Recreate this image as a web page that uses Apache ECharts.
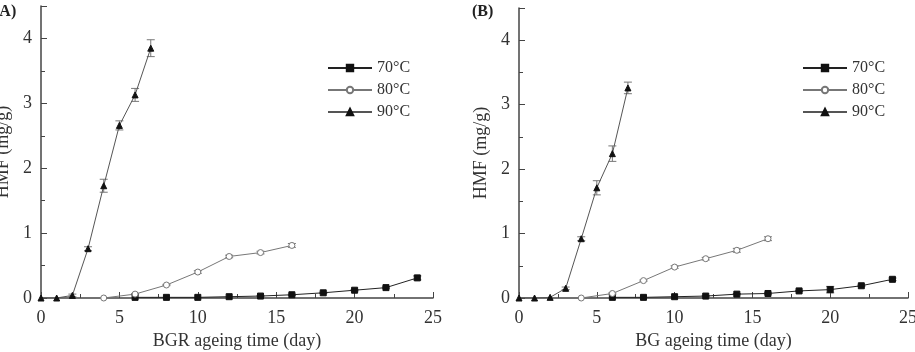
<!DOCTYPE html>
<html>
<head>
<meta charset="utf-8">
<script src="https://cdn.jsdelivr.net/npm/echarts@6/dist/echarts.min.js"></script>
<style>
  html, body { margin: 0; padding: 0; background: #fff; }
  #chart { width: 915px; height: 352px; }
</style>
</head>
<body>
<div id="chart"></div>
<script>
// panel A (BGR)
var a70x = [6, 8, 10, 12, 14, 16, 18, 20, 22, 24];
var a70y = [0.01, 0.01, 0.01, 0.02, 0.03, 0.05, 0.08, 0.12, 0.16, 0.31];
var a70e = [0, 0, 0, 0, 0.01, 0.01, 0.01, 0.01, 0.01, 0.03];
var a80x = [4, 6, 8, 10, 12, 14, 16];
var a80y = [0, 0.06, 0.2, 0.4, 0.64, 0.7, 0.81];
var a80e = [0, 0.01, 0.01, 0.02, 0.02, 0.02, 0.03];
var a90x = [0, 1, 2, 3, 4, 5, 6, 7];
var a90y = [0, 0, 0.04, 0.76, 1.73, 2.66, 3.13, 3.85];
var a90e = [0, 0, 0.02, 0.03, 0.1, 0.07, 0.1, 0.13];

// panel B (BG)
var b70x = [6, 8, 10, 12, 14, 16, 18, 20, 22, 24];
var b70y = [0.01, 0.01, 0.02, 0.03, 0.06, 0.07, 0.11, 0.13, 0.19, 0.29];
var b70e = [0, 0, 0, 0.01, 0.01, 0.01, 0.01, 0.05, 0.01, 0.02];
var b80x = [4, 6, 8, 10, 12, 14, 16];
var b80y = [0, 0.07, 0.27, 0.48, 0.61, 0.74, 0.92];
var b80e = [0, 0.01, 0.01, 0.02, 0.02, 0.03, 0.03];
var b90x = [0, 1, 2, 3, 4, 5, 6, 7];
var b90y = [0, 0, 0.01, 0.15, 0.92, 1.71, 2.24, 3.26];
var b90e = [0, 0, 0, 0.02, 0.03, 0.11, 0.12, 0.09];

var names = ["70°C", "80°C", "90°C"];
var xTitles = ["BGR ageing time (day)", "BG ageing time (day)"];

var font = "Liberation Serif";

function pairs(xs, ys) {
  return xs.map(function (x, i) { return [x, ys[i]]; });
}
function errs(xs, ys, es) {
  var out = [];
  xs.forEach(function (x, i) {
    if (es[i] > 0) out.push([x, ys[i] - es[i], ys[i] + es[i]]);
  });
  return out;
}

function errorSeries(idx, data, color) {
  return {
    type: "custom",
    xAxisIndex: idx,
    yAxisIndex: idx,
    data: data,
    z: 1,
    silent: true,
    renderItem: function (params, api) {
      var x = api.value(0);
      var lo = api.coord([x, api.value(1)]);
      var hi = api.coord([x, api.value(2)]);
      var w = 4;
      var st = { stroke: color, lineWidth: 1 };
      return {
        type: "group",
        children: [
          { type: "line", shape: { x1: lo[0], y1: lo[1], x2: hi[0], y2: hi[1] }, style: st },
          { type: "line", shape: { x1: lo[0] - w, y1: lo[1], x2: lo[0] + w, y2: lo[1] }, style: st },
          { type: "line", shape: { x1: hi[0] - w, y1: hi[1], x2: hi[0] + w, y2: hi[1] }, style: st }
        ]
      };
    }
  };
}

function lineSeries(idx, name, data, symbol, lineColor, symColor, border) {
  return {
    type: "line",
    name: name,
    xAxisIndex: idx,
    yAxisIndex: idx,
    data: data,
    symbol: symbol,
    symbolSize: 6,
    z: 3,
    lineStyle: { color: lineColor, width: 1 },
    itemStyle: { color: symColor, borderColor: border, borderWidth: 1 },
    emphasis: { disabled: true }
  };
}

function xAxisFor(idx) {
  return {
    type: "value",
    gridIndex: idx,
    min: 0,
    max: 25,
    interval: 5,
    name: xTitles[idx],
    nameLocation: "middle",
    nameGap: 29,
    nameTextStyle: { fontFamily: font, fontSize: 18, color: "#333" },
    axisLine: { lineStyle: { color: "#444", width: 1.5 } },
    axisTick: { inside: true, length: 6, lineStyle: { color: "#444" } },
    minorTick: { show: true, splitNumber: 2, length: 4, lineStyle: { color: "#444" } },
    axisLabel: { fontFamily: font, fontSize: 18, color: "#333", margin: 11 },
    splitLine: { show: false }
  };
}

function yAxisFor(idx) {
  return {
    type: "value",
    gridIndex: idx,
    min: 0,
    max: 4.5,
    interval: 1,
    name: "HMF (mg/g)",
    nameLocation: "middle",
    nameGap: 29,
    nameTextStyle: { fontFamily: font, fontSize: 18, color: "#333" },
    axisLine: { show: true, lineStyle: { color: "#444", width: 1.5 } },
    axisTick: { inside: true, length: 6, lineStyle: { color: "#444" } },
    minorTick: { show: true, splitNumber: 2, length: 4, lineStyle: { color: "#444" } },
    axisLabel: {
      fontFamily: font, fontSize: 18, color: "#333", margin: 9,
      formatter: function (v) { return v % 1 === 0 ? String(v) : ""; }
    },
    splitLine: { show: false }
  };
}

function legendFor(idx, left) {
  return {
    show: true,
    orient: "vertical",
    left: left,
    top: 55,
    itemWidth: 44,
    itemHeight: 8,
    itemGap: 6,
    data: names,
    selectedMode: false,
    textStyle: { fontFamily: font, fontSize: 16, color: "#333" }
  };
}

var chart = echarts.init(document.getElementById("chart"));
var option = {
  animation: false,
  backgroundColor: "#fff",
  grid: [
    { left: 41, right: 482, top: 6, bottom: 54, outerBoundsMode: "none" },
    { left: 519, right: 7, top: 8, bottom: 54, outerBoundsMode: "none" }
  ],
  xAxis: [xAxisFor(0), xAxisFor(1)],
  yAxis: [yAxisFor(0), yAxisFor(1)],
  legend: [legendFor(0, 322), legendFor(1, 797)],
  graphic: [
    { type: "text", left: -6, top: 4, style: { text: "(A)", font: "bold 16px " + font, fill: "#222" } },
    { type: "text", left: 472, top: 4, style: { text: "(B)", font: "bold 16px " + font, fill: "#222" } }
  ],
  series: [
    lineSeries(0, names[0], pairs(a70x, a70y), "rect", "#222", "#111", "#111"),
    lineSeries(0, names[1], pairs(a80x, a80y), "circle", "#777", "#fff", "#777"),
    lineSeries(0, names[2], pairs(a90x, a90y), "triangle", "#555", "#111", "#111"),
    errorSeries(0, errs(a70x, a70y, a70e), "#555"),
    errorSeries(0, errs(a80x, a80y, a80e), "#777"),
    errorSeries(0, errs(a90x, a90y, a90e), "#777"),
    lineSeries(1, names[0], pairs(b70x, b70y), "rect", "#222", "#111", "#111"),
    lineSeries(1, names[1], pairs(b80x, b80y), "circle", "#777", "#fff", "#777"),
    lineSeries(1, names[2], pairs(b90x, b90y), "triangle", "#555", "#111", "#111"),
    errorSeries(1, errs(b70x, b70y, b70e), "#555"),
    errorSeries(1, errs(b80x, b80y, b80e), "#777"),
    errorSeries(1, errs(b90x, b90y, b90e), "#777")
  ]
};
chart.setOption(option);
</script>
</body>
</html>
